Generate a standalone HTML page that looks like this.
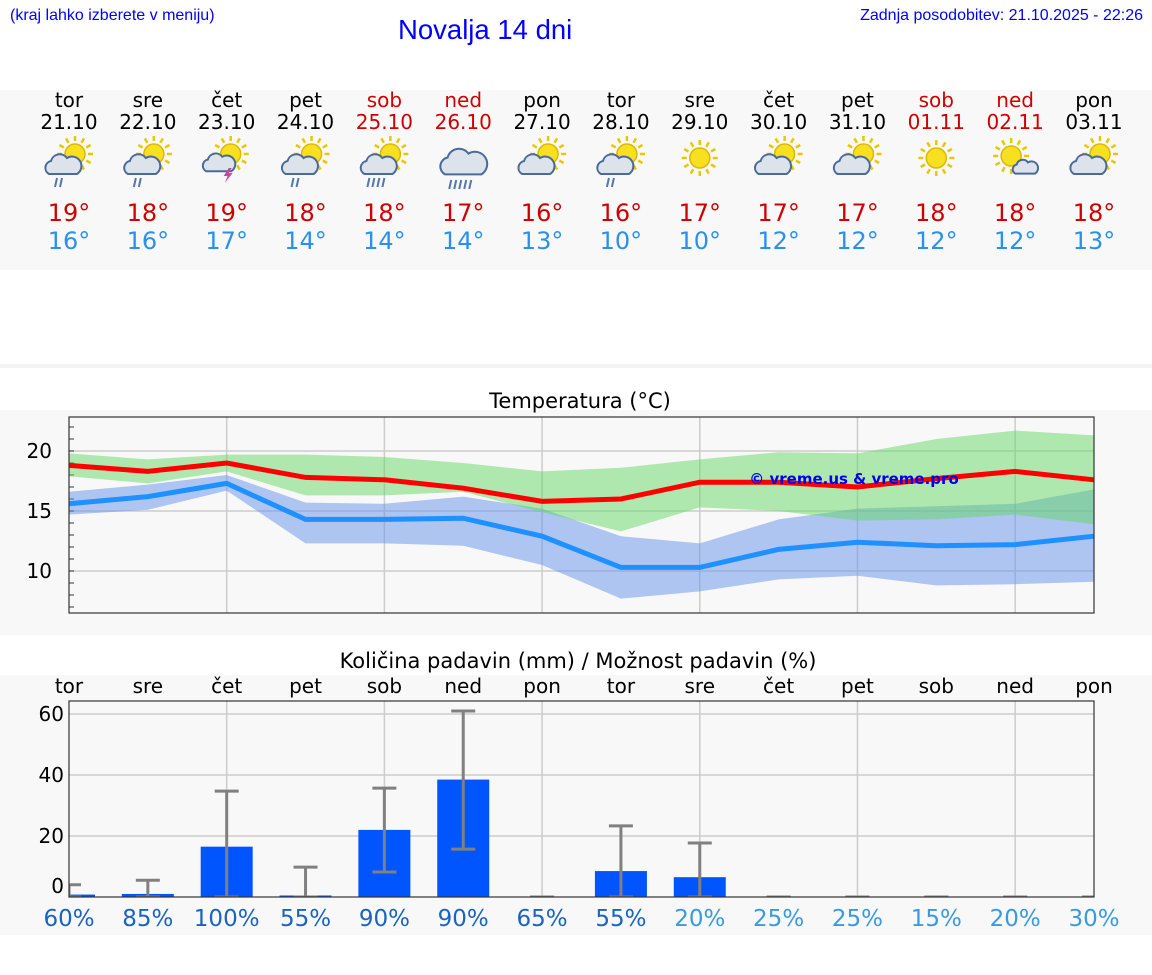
<!DOCTYPE html>
<html><head><meta charset="utf-8">
<style>
body{margin:0;width:1152px;height:975px;background:#fff;font-family:"DejaVu Sans","Liberation Sans",sans-serif;overflow:hidden;position:relative}
.a{position:absolute}
</style></head><body>
<div class="a" style="left:10px;top:7px;font-size:16px;color:#00f;font-family:'Liberation Sans',sans-serif">(kraj lahko izberete v meniju)</div>
<div class="a" style="left:398px;top:14px;font-size:27.5px;color:#00f;font-family:'Liberation Sans',sans-serif">Novalja 14 dni</div>
<div class="a" style="right:9px;top:7px;font-size:16px;color:#00f;font-family:'Liberation Sans',sans-serif">Zadnja posodobitev: 21.10.2025 - 22:26</div>
<svg id="s" class="a" style="left:0;top:0" width="1152" height="975"></svg>
<script>
const days=['tor','sre','čet','pet','sob','ned','pon','tor','sre','čet','pet','sob','ned','pon'];
const dates=['21.10','22.10','23.10','24.10','25.10','26.10','27.10','28.10','29.10','30.10','31.10','01.11','02.11','03.11'];
const weekend=[0,0,0,0,1,1,0,0,0,0,0,1,1,0];
const icons=['scr','scr','st','scr','sch','ch','sc','scr','s','sc','sc','s','ss','sc'];
const maxT=[18.8,18.3,19.0,17.8,17.6,16.9,15.8,16.0,17.4,17.4,17.0,17.7,18.3,17.6];
const maxHi=[19.8,19.3,19.7,19.7,19.5,19.0,18.3,18.6,19.3,19.9,19.8,21.0,21.7,21.3];
const maxLo=[17.9,17.3,18.3,16.3,16.3,16.6,14.9,13.3,15.3,15.0,14.2,14.3,14.7,13.9];
const minT=[15.6,16.2,17.3,14.3,14.3,14.4,12.9,10.3,10.3,11.8,12.4,12.1,12.2,12.9];
const minHi=[16.6,17.2,18.0,15.7,15.6,16.2,15.2,12.9,12.3,14.3,15.2,15.4,15.6,16.8];
const minLo=[14.7,15.1,16.7,12.3,12.3,12.1,10.5,7.7,8.3,9.3,9.6,8.8,8.9,9.1];
const maxLabels=['19°','18°','19°','18°','18°','17°','16°','16°','17°','17°','17°','18°','18°','18°'];
const minLabels=['16°','16°','17°','14°','14°','14°','13°','10°','10°','12°','12°','12°','12°','13°'];
const rain=[0.8,1,16.5,0.5,22,38.5,0,8.5,6.5,0,0,0,0,0];
const rainHi=[4,5.5,34.7,9.8,35.7,61,0,23.3,17.7,0,0,0,0,0];
const rainLo=[0,0,0,0,8.2,15.7,0,0,0,0,0,0,0,0];
const prob=[60,85,100,55,90,90,65,55,20,25,25,15,20,30];
const tTicks=[10,15,20];
const pTicks=[0,20,40,60];

const S=document.getElementById('s');const NS='http://www.w3.org/2000/svg';
function E(t,a,p){const e=document.createElementNS(NS,t);for(const k in a)e.setAttribute(k,a[k]);(p||S).appendChild(e);return e;}
function T(x,y,s,o){const e=E('text',Object.assign({x:x,y:y,'text-anchor':'middle','font-size':20,fill:'#000','font-family':'DejaVu Sans,Liberation Sans,sans-serif'},o||{}));e.textContent=s;return e;}
const X=i=>69+i*(1025/13);
const TY=v=>451-(v-20)*12;
const PY=v=>897-v*3.05;
let r=E('rect',{x:0,y:90,width:1152,height:180,fill:'#f8f8f8'});
E('rect',{x:0,y:364,width:1152,height:4,fill:'#f4f4f4'});
r=E('rect',{x:0,y:410,width:1152,height:225,fill:'#f8f8f8'});
r=E('rect',{x:0,y:675,width:1152,height:260,fill:'#f8f8f8'});
function icon(k,cx,cy){const g=E('g',{});
 const sun=(x,y,rr)=>{for(let a=0;a<12;a++){const an=a*Math.PI/6;E('line',{x1:x+Math.cos(an)*(rr+3),y1:y+Math.sin(an)*(rr+3),x2:x+Math.cos(an)*(rr+8),y2:y+Math.sin(an)*(rr+8),stroke:'#e8c800','stroke-width':2.5},g);}E('circle',{cx:x,cy:y,r:rr,fill:'#f6e020',stroke:'#e0b800','stroke-width':1.5},g);};
 const cloud=(x,y,sc)=>{E('path',{d:`M${x-14*sc},${y+8*sc} a${7*sc},${7*sc} 0 0 1 ${2*sc},${-13*sc} a${9*sc},${9*sc} 0 0 1 ${16*sc},${-3*sc} a${7*sc},${7*sc} 0 0 1 ${10*sc},${16*sc} z`,fill:'#dde3ea',stroke:'#4a6a9a','stroke-width':2},g);};
 const drops=(x,y,n)=>{for(let j=0;j<n;j++)E('line',{x1:x+j*5,y1:y,x2:x+j*5-2,y2:y+9,stroke:'#5577aa','stroke-width':2},g);};
 if(k=='s'){sun(cx,cy-8,10);}
 if(k=='sc'||k=='scr'||k=='sch'){sun(cx+6,cy-12,10);cloud(cx-6,cy,1);if(k=='scr')drops(cx-12,cy+12,2);if(k=='sch')drops(cx-15,cy+12,4);}
 if(k=='st'){sun(cx+4,cy-12,10);cloud(cx-8,cy-2,0.9);E('path',{d:`M${cx+2},${cy+2} l-5,8 h4 l-3,7 l8,-10 h-4 l3,-5z`,fill:'#c04aa0'},g);}
 if(k=='ch'){cloud(cx,cy-2,1.3);drops(cx-12,cy+14,5);}
 if(k=='ss'){sun(cx-4,cy-10,10);cloud(cx+10,cy+2,0.7);}
}
for(let i=0;i<14;i++){const x=X(i),c=weekend[i]?'#d00000':'#000';
 let t=T(x,107,days[i],{fill:c});
 t=T(x,129,dates[i],{fill:c});
 icon(icons[i],x,166);
 t=T(x,221,maxLabels[i],{fill:'#d00000','font-size':24});
 t=T(x,249,minLabels[i],{fill:'#2a90ee','font-size':24});
}
let t=T(580,408,'Temperatura (°C)',{'font-size':21});
E('rect',{x:69,y:417,width:1025,height:196,fill:'#f8f8f8'});
for(const v of tTicks){E('line',{x1:69,x2:1094,y1:TY(v),y2:TY(v),stroke:'#ccc','stroke-width':1.5});t=T(52,TY(v)+7,String(v),{'text-anchor':'end'});}
for(let v=7;v<=22;v++)E('line',{x1:69,x2:74,y1:TY(v),y2:TY(v),stroke:'#333'});
for(let i=2;i<14;i+=2)E('line',{x1:X(i),x2:X(i),y1:417,y2:613,stroke:'#ccc','stroke-width':1.5});
function band(hi,lo,f,name){let d='M'+hi.map((v,i)=>X(i)+','+TY(v)).join(' L')+' L'+lo.map((v,i)=>X(i)+','+TY(v)).reverse().join(' L')+'Z';const p=E('path',{d:d,fill:f});}
function line(a,c,name){const p=E('polyline',{points:a.map((v,i)=>X(i)+','+TY(v)).join(' '),fill:'none',stroke:c,'stroke-width':5});}
band(minHi,minLo,'rgba(100,145,235,0.5)','min-temp-band');
band(maxHi,maxLo,'rgba(100,215,100,0.5)','max-temp-band');
line(minT,'#1e90ff','min-temp-line');line(maxT,'#ff0000','max-temp-line');
E('rect',{x:69,y:417,width:1025,height:196,fill:'none',stroke:'#333','stroke-width':1.2});
t=T(854,484,'© vreme.us & vreme.pro',{fill:'#0000ee','font-size':15,'font-weight':'bold'});
t=T(578,668,'Količina padavin (mm) / Možnost padavin (%)',{'font-size':21});
E('rect',{x:69,y:701,width:1025,height:196,fill:'#f8f8f8'});
for(const v of pTicks){if(v>0)E('line',{x1:69,x2:1094,y1:PY(v),y2:PY(v),stroke:'#ccc','stroke-width':1.5});t=T(64,(v==0?PY(v)-4:PY(v)+7),String(v),{'text-anchor':'end'});}
for(let i=2;i<14;i+=2)E('line',{x1:X(i),x2:X(i),y1:701,y2:897,stroke:'#ccc','stroke-width':1.5});
const cp=E('clipPath',{id:'pc'});E('rect',{x:69,y:701,width:1025,height:196},cp);
const pg=E('g',{'clip-path':'url(#pc)'});
for(let i=0;i<14;i++){const x=X(i);
 t=T(x,693,days[i]);
 if(rain[i]>0){const b=E('rect',{x:x-26,y:PY(rain[i]),width:52,height:PY(0)-PY(rain[i]),fill:'#0055ff'},pg);}
 const eg=E('g',{stroke:'#808080','stroke-width':3},pg);
 E('line',{x1:x,x2:x,y1:PY(rainHi[i]),y2:PY(rainLo[i])},eg);E('line',{x1:x-12,x2:x+12,y1:PY(rainHi[i]),y2:PY(rainHi[i])},eg);E('line',{x1:x-12,x2:x+12,y1:PY(rainLo[i]),y2:PY(rainLo[i])},eg);
 t=T(x,926,prob[i]+'%',{'font-size':23,fill:prob[i]>=50?'#1a64c0':'#3a9ae0'});
}
E('rect',{x:69,y:701,width:1025,height:196,fill:'none',stroke:'#333','stroke-width':1.2});
</script>
</body></html>
